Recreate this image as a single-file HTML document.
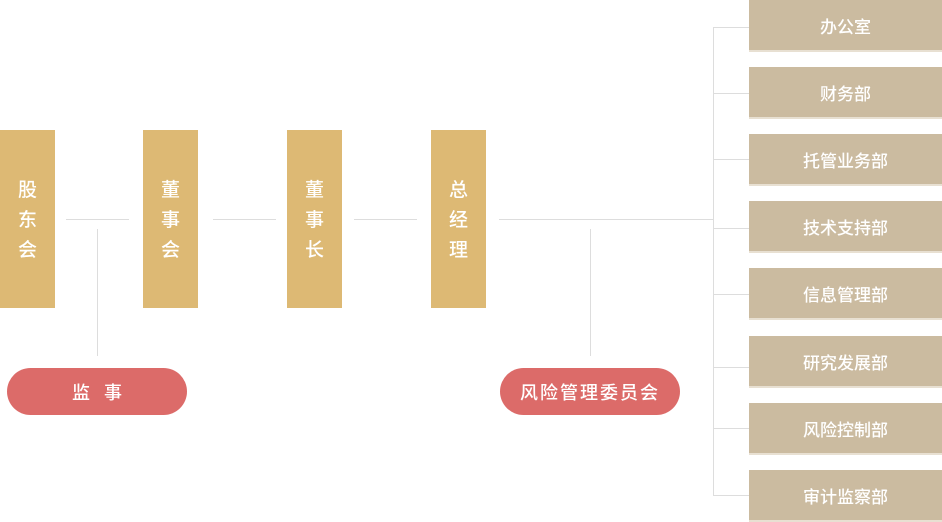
<!DOCTYPE html>
<html><head><meta charset="utf-8"><style>
body{margin:0;width:942px;height:522px;background:#fff;position:relative;overflow:hidden;font-family:"Liberation Sans","Noto Sans CJK SC",sans-serif;}
.g{position:absolute;top:130px;width:55px;height:178px;background:#ddb974;color:#fff;font-size:19px;line-height:30px;display:flex;align-items:center;justify-content:center;text-align:center;font-weight:500;padding-top:4px;box-sizing:border-box}
.l{position:absolute;background:#ddd}
.p{position:absolute;top:368px;width:180px;height:47px;border-radius:24px;background:#dc6b69;color:#fff;font-size:18px;display:flex;align-items:center;justify-content:center;letter-spacing:2px;font-weight:500}
.r{position:absolute;left:749px;width:193px;height:50px;background:#cbbba0;border-bottom:2px solid #e8e0d2;color:#fff;font-size:17px;display:flex;align-items:center;justify-content:center;font-weight:500}
</style></head><body>
<div class="g" style="left:0">股<br>东<br>会</div>
<div class="g" style="left:143px">董<br>事<br>会</div>
<div class="g" style="left:287px">董<br>事<br>长</div>
<div class="g" style="left:431px">总<br>经<br>理</div>
<div class="l" style="left:66px;top:219px;width:63px;height:1px"></div>
<div class="l" style="left:213px;top:219px;width:63px;height:1px"></div>
<div class="l" style="left:354px;top:219px;width:63px;height:1px"></div>
<div class="l" style="left:499px;top:219px;width:214px;height:1px"></div>
<div class="l" style="left:97px;top:229px;width:1px;height:127px"></div>
<div class="l" style="left:590px;top:229px;width:1px;height:127px"></div>
<div class="l" style="left:713px;top:27px;width:1px;height:468px"></div>
<div class="p" style="left:7px;letter-spacing:14px;padding-left:14px;box-sizing:border-box">监事</div>
<div class="p" style="left:500px">风险管理委员会</div>
<div class="l" style="left:713px;top:27px;width:36px;height:1px"></div>
<div class="l" style="left:713px;top:93px;width:36px;height:1px"></div>
<div class="l" style="left:713px;top:159px;width:36px;height:1px"></div>
<div class="l" style="left:713px;top:228px;width:36px;height:1px"></div>
<div class="l" style="left:713px;top:294px;width:36px;height:1px"></div>
<div class="l" style="left:713px;top:367px;width:36px;height:1px"></div>
<div class="l" style="left:713px;top:428px;width:36px;height:1px"></div>
<div class="l" style="left:713px;top:495px;width:36px;height:1px"></div>
<div class="r" style="top:0">办公室</div>
<div class="r" style="top:67px">财务部</div>
<div class="r" style="top:134px">托管业务部</div>
<div class="r" style="top:201px">技术支持部</div>
<div class="r" style="top:268px">信息管理部</div>
<div class="r" style="top:336px">研究发展部</div>
<div class="r" style="top:403px">风险控制部</div>
<div class="r" style="top:470px">审计监察部</div>
</body></html>
